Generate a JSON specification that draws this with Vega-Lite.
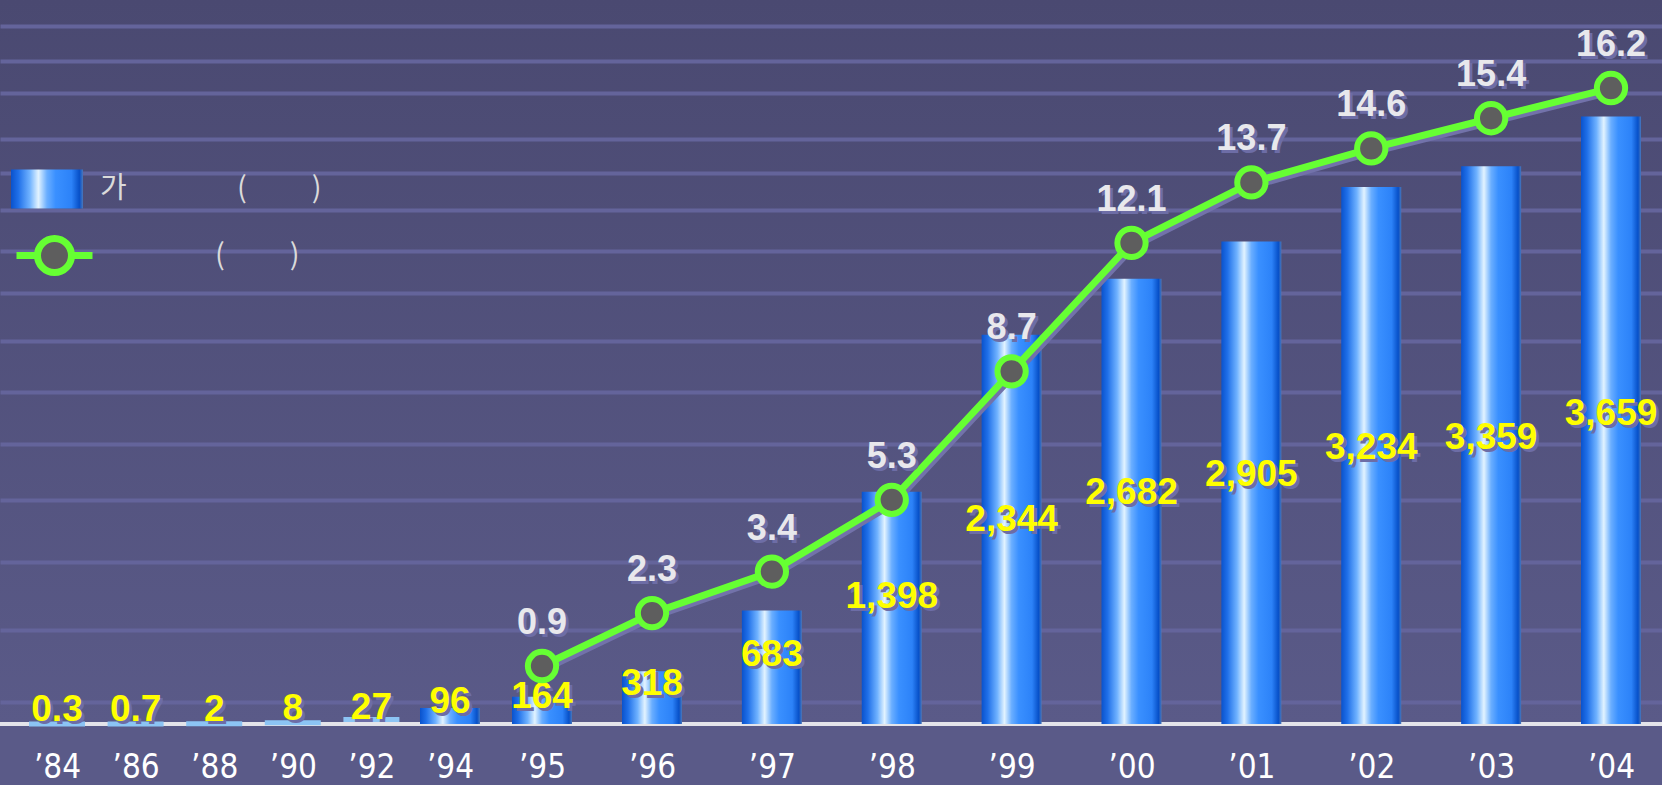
{
  "$schema": "https://vega.github.io/schema/vega-lite/v6.json",
  "width": 1662,
  "height": 724,
  "autosize": {"type": "none"},
  "padding": {"left": 0, "top": 0, "right": 0, "bottom": 61},
  "background": "#5a5a88",
  "view": {"stroke": null, "fill": {"gradient": "linear", "x1": 0, "y1": 0, "x2": 0, "y2": 1, "stops": [{"offset": 0, "color": "#4a4971"}, {"offset": 1, "color": "#5a5a88"}]}},
  "config": {"font": "Liberation Sans"},
  "data": {"values": [
    {"year": 1984, "bars": 0.3},
    {"year": 1986, "bars": 0.7},
    {"year": 1988, "bars": 2},
    {"year": 1990, "bars": 8},
    {"year": 1992, "bars": 27},
    {"year": 1994, "bars": 96},
    {"year": 1995, "bars": 164, "rate": 0.9},
    {"year": 1996, "bars": 318, "rate": 2.3},
    {"year": 1997, "bars": 683, "rate": 3.4},
    {"year": 1998, "bars": 1398, "rate": 5.3},
    {"year": 1999, "bars": 2344, "rate": 8.7},
    {"year": 2000, "bars": 2682, "rate": 12.1},
    {"year": 2001, "bars": 2905, "rate": 13.7},
    {"year": 2002, "bars": 3234, "rate": 14.6},
    {"year": 2003, "bars": 3359, "rate": 15.4},
    {"year": 2004, "bars": 3659, "rate": 16.2}
  ]},
  "layer": [
    {
      "mark": {"type": "rule", "stroke": "#e4e4ea", "strokeWidth": 3},
      "encoding": {
        "y": {"datum": 0, "type": "quantitative", "scale": {"domain": [0, 4360]}, "axis": null}
      }
    },
    {
      "transform": [{"filter": "datum.bars >= 50"}],
      "mark": {"type": "bar", "width": 60},
      "encoding": {
        "x": {"field": "year", "type": "quantitative",
          "scale": {"type": "linear", "domain": [1982.55, 1984, 1994, 1995, 1996, 2004, 2004.43], "range": [0, 57, 450, 542, 652, 1611, 1662], "zero": false, "nice": false},
          "axis": {"values": [1984, 1986, 1988, 1990, 1992, 1994, 1995, 1996, 1997, 1998, 1999, 2000, 2001, 2002, 2003, 2004],
            "labelExpr": "'\u2019' + substring('' + datum.value, 2)",
            "domain": false, "ticks": false, "tickSize": 0, "grid": false, "title": null,
            "labelFont": "Liberation Sans Narrow, DejaVu Sans Condensed, sans-serif", "labelFontSize": 33, "labelColor": "#ffffff",
            "labelPadding": 43, "labelBaseline": "middle", "labelOverlap": false, "labelFlush": false, "labelBound": false}},
        "y": {"field": "bars", "type": "quantitative", "scale": {"domain": [0, 4360]},
          "axis": {"values": [4203, 3993, 3800, 3523, 3318, 3095, 2848, 2596, 2306, 1999, 1686, 1349, 976, 566, 132],
            "grid": true, "gridColor": "#64649b", "gridWidth": 4, "labels": false, "ticks": false, "domain": false, "title": null}},
        "fill": {"datum": "가\u00a0\u00a0\u00a0\u00a0\u00a0\u00a0\u00a0\u00a0\u00a0\u00a0\u00a0\u00a0\u00a0\u00a0\u00a0\u00a0\u00a0(\u00a0\u00a0\u00a0\u00a0\u00a0\u00a0\u00a0\u00a0\u00a0\u00a0)",
          "scale": {"range": [{"expr": "{gradient: 'linear', x1: 0, y1: 0, x2: 1, y2: 0, stops: [{offset: 0, color: '#0a52cc'}, {offset: 0.1, color: '#1f6fe8'}, {offset: 0.26, color: '#6fb2ff'}, {offset: 0.38, color: '#e2f3ff'}, {offset: 0.5, color: '#6aaeff'}, {offset: 0.62, color: '#3a90ff'}, {offset: 0.84, color: '#2c82f8'}, {offset: 0.95, color: '#0750c8'}, {offset: 1, color: '#4a78bc'}]}"}]},
          "legend": {"title": null, "orient": "none", "legendX": 11, "legendY": 153, "padding": 0,
            "symbolType": "M-1,-0.54H1V0.54H-1Z", "symbolSize": 5184, "symbolStrokeWidth": 0, "symbolOpacity": 1,
            "labelFont": "Noto Sans CJK KR", "labelFontSize": 29, "labelColor": "#dadada", "labelOffset": 17, "labelLimit": 500}}
      }
    },
    {
      "transform": [{"filter": "datum.bars < 50"}],
      "mark": {"type": "tick", "orient": "horizontal", "thickness": 5, "size": 56, "opacity": 1, "color": "#8cc4f4"},
      "encoding": {
        "x": {"field": "year", "type": "quantitative"},
        "y": {"field": "bars", "type": "quantitative", "scale": {"domain": [0, 4360]}, "axis": null}
      }
    },
    {
      "mark": {"type": "text", "font": "Liberation Sans", "fontSize": 37, "fontWeight": "bold", "fill": "#6d6da6", "dx": 3, "dy": 3, "baseline": "middle"},
      "encoding": {
        "x": {"field": "year", "type": "quantitative"},
        "y": {"field": "bars", "type": "quantitative", "scale": {"domain": [-173, 8765]}, "axis": null},
        "text": {"field": "bars", "type": "quantitative", "format": ","}
      }
    },
    {
      "mark": {"type": "text", "font": "Liberation Sans", "fontSize": 37, "fontWeight": "bold", "fill": "#ffff00", "baseline": "middle"},
      "encoding": {
        "x": {"field": "year", "type": "quantitative"},
        "y": {"field": "bars", "type": "quantitative", "scale": {"domain": [-173, 8765]}, "axis": null},
        "text": {"field": "bars", "type": "quantitative", "format": ","}
      }
    },
    {
      "transform": [{"filter": "isValid(datum.rate)"}],
      "mark": {"type": "line", "stroke": "#7272aa", "strokeWidth": 5, "xOffset": 3, "yOffset": 4},
      "encoding": {
        "x": {"field": "year", "type": "quantitative"},
        "y": {"field": "rate", "type": "quantitative", "scale": {"domain": [-0.635, 18.53]}, "axis": null}
      }
    },
    {
      "transform": [{"filter": "isValid(datum.rate)"}],
      "mark": {"type": "line", "strokeWidth": 7},
      "encoding": {
        "x": {"field": "year", "type": "quantitative"},
        "y": {"field": "rate", "type": "quantitative", "scale": {"domain": [-0.635, 18.53]}, "axis": null},
        "stroke": {"datum": "(\u00a0\u00a0\u00a0\u00a0\u00a0\u00a0\u00a0\u00a0\u00a0\u00a0)",
          "scale": {"range": ["#66ff33"]},
          "legend": {"title": null, "orient": "none", "legendX": 13, "legendY": 214, "padding": 0,
            "symbolType": "M-1,0H-0.447A0.447,0.447 0 1,1 0.447,0A0.447,0.447 0 1,1 -0.447,0M0.447,0H1",
            "symbolSize": 5776, "symbolStrokeWidth": 7, "symbolFillColor": "#5e5e5e",
            "labelFont": "Noto Sans CJK KR", "labelFontSize": 29, "labelColor": "#dadada", "labelOffset": 119, "labelLimit": 500}}
      }
    },
    {
      "transform": [{"filter": "isValid(datum.rate)"}],
      "mark": {"type": "point", "shape": "circle", "filled": true, "fill": "#5e5e5e", "stroke": "#66ff33", "strokeWidth": 6, "size": 800, "opacity": 1},
      "encoding": {
        "x": {"field": "year", "type": "quantitative"},
        "y": {"field": "rate", "type": "quantitative", "scale": {"domain": [-0.635, 18.53]}, "axis": null}
      }
    },
    {
      "transform": [{"filter": "isValid(datum.rate)"}],
      "mark": {"type": "text", "font": "Liberation Sans", "fontSize": 36, "fontWeight": "bold", "fill": "#6d6da6", "dx": 3, "dy": -40, "baseline": "middle"},
      "encoding": {
        "x": {"field": "year", "type": "quantitative"},
        "y": {"field": "rate", "type": "quantitative", "scale": {"domain": [-0.635, 18.53]}, "axis": null},
        "text": {"field": "rate", "type": "quantitative", "format": ".1f"}
      }
    },
    {
      "transform": [{"filter": "isValid(datum.rate)"}],
      "mark": {"type": "text", "font": "Liberation Sans", "fontSize": 36, "fontWeight": "bold", "fill": "#e8e8ec", "dy": -43, "baseline": "middle"},
      "encoding": {
        "x": {"field": "year", "type": "quantitative"},
        "y": {"field": "rate", "type": "quantitative", "scale": {"domain": [-0.635, 18.53]}, "axis": null},
        "text": {"field": "rate", "type": "quantitative", "format": ".1f"}
      }
    }
  ],
  "resolve": {"scale": {"y": "independent"}}
}
